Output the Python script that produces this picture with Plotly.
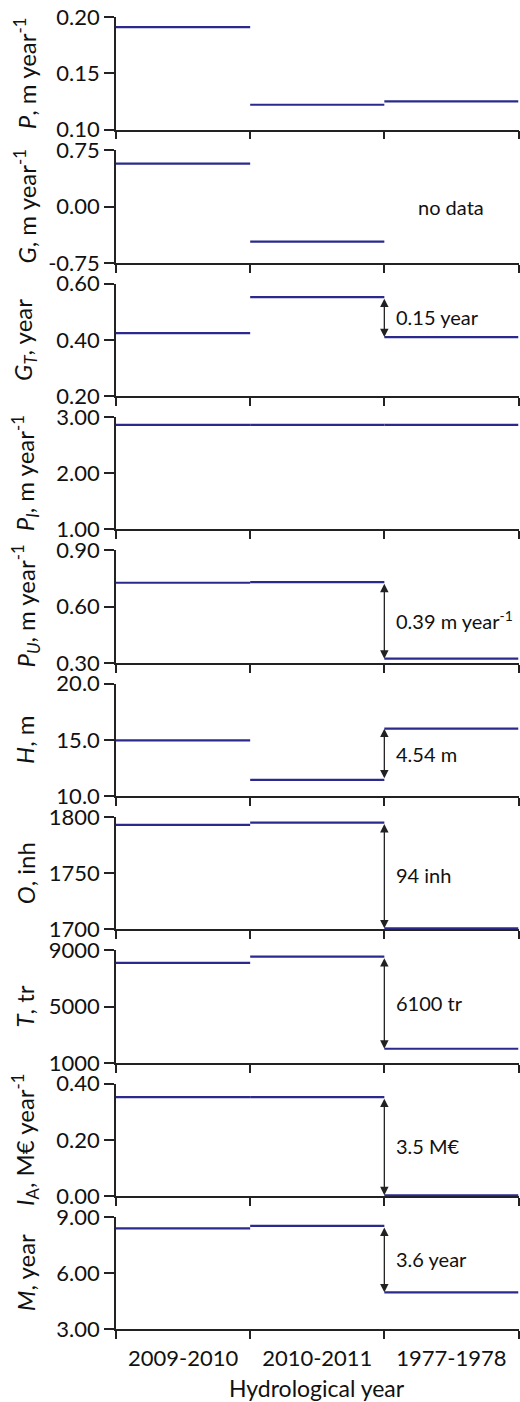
import plotly.graph_objects as go

# ---------------- data ----------------
periods = ["2009-2010", "2010-2011", "1977-1978"]

titles = [
    "<i>P</i>, m year<sup>-1</sup>",
    "<i>G</i>, m year<sup>-1</sup>",
    "<i>G<sub>T</sub></i>, year",
    "<i>P<sub>I</sub></i>, m year<sup>-1</sup>",
    "<i>P<sub>U</sub></i>, m year<sup>-1</sup>",
    "<i>H</i>, m",
    "<i>O</i>, inh",
    "<i>T</i>, tr",
    "<i>I</i><sub>A</sub>, M€ year<sup>-1</sup>",
    "<i>M</i>, year",
]

P_vals = [0.191, 0.122, 0.125]
G_vals = [0.573, -0.467, None]
GT_vals = [0.424, 0.552, 0.410]
PI_vals = [2.86, 2.86, 2.86]
PU_vals = [0.727, 0.730, 0.322]
H_vals = [14.96, 11.45, 16.0]
O_vals = [1793, 1795, 1701]
T_vals = [8100, 8550, 2000]
IA_vals = [0.352, 0.352, 0.003]
M_vals = [8.39, 8.52, 4.98]

series = [P_vals, G_vals, GT_vals, PI_vals, PU_vals, H_vals, O_vals, T_vals, IA_vals, M_vals]

y_ranges = [[0.10, 0.20], [-0.75, 0.75], [0.20, 0.60], [1.00, 3.00], [0.30, 0.90],
            [10.0, 20.0], [1700, 1800], [1000, 9000], [0.00, 0.40], [3.00, 9.00]]
y_tickvals = [[0.10, 0.15, 0.20], [-0.75, 0.0, 0.75], [0.20, 0.40, 0.60], [1.0, 2.0, 3.0],
              [0.30, 0.60, 0.90], [10.0, 15.0, 20.0], [1700, 1750, 1800], [1000, 5000, 9000],
              [0.0, 0.20, 0.40], [3.0, 6.0, 9.0]]
y_ticktext = [["0.10", "0.15", "0.20"], ["-0.75", "0.00", "0.75"], ["0.20", "0.40", "0.60"],
              ["1.00", "2.00", "3.00"], ["0.30", "0.60", "0.90"], ["10.0", "15.0", "20.0"],
              ["1700", "1750", "1800"], ["1000", "5000", "9000"], ["0.00", "0.20", "0.40"],
              ["3.00", "6.00", "9.00"]]

# difference labels (panel index -> text) drawn between 2nd and 3rd period
diff_labels = {2: "0.15 year", 4: "0.39 m year<sup>-1</sup>", 5: "4.54 m", 6: "94 inh",
               7: "6100 tr", 8: "3.5 M€", 9: "3.6 year"}
no_data_panel = 1
no_data_text = "no data"
x_title = "Hydrological year"

# ---------------- layout geometry ----------------
W, H = 520, 1402
FONT = "Lato"
LINE_COLOR = "#2b2a8c"
AX_COLOR = "#222222"
TXT = "#111111"
top0, pitch, ph = 17.0, 133.33, 112.5
x0_px, x1_px = 116.0, 518.5

fig = go.Figure()
layout = dict(
    width=W, height=H,
    margin=dict(l=0, r=0, t=0, b=0, autoexpand=False),
    paper_bgcolor="white", plot_bgcolor="white",
    showlegend=False,
    font=dict(family=FONT, size=22, color=TXT),
)
annotations = []

n = len(series)
for k in range(n):
    idx = "" if k == 0 else str(k + 1)
    xa, ya = "x" + idx, "y" + idx
    top = top0 + k * pitch
    bot = top + ph
    vals = series[k]
    xs, ys = [], []
    for i, v in enumerate(vals):
        if v is None:
            continue
        xs += [i, i + 1, None]
        ys += [v, v, None]
    fig.add_trace(go.Scatter(x=xs, y=ys, mode="lines", xaxis=xa, yaxis=ya,
                             line=dict(color=LINE_COLOR, width=2.2), hoverinfo="skip"))
    layout["xaxis" + idx] = dict(
        domain=[x0_px / W, x1_px / W], anchor=ya, range=[0, 3], automargin=False,
        showline=True, linecolor=AX_COLOR, linewidth=1.5,
        ticks="outside", tickvals=[0, 1, 2, 3], ticklen=8, tickwidth=1.5, tickcolor=AX_COLOR,
        showticklabels=False, showgrid=False, zeroline=False, layer="below traces",
    )
    layout["yaxis" + idx] = dict(
        domain=[1 - bot / H, 1 - top / H], anchor=xa, range=y_ranges[k], automargin=False,
        showline=True, linecolor=AX_COLOR, linewidth=1.5,
        ticks="outside", ticklen=10, tickwidth=1.5, tickcolor=AX_COLOR,
        tickvals=y_tickvals[k], ticktext=y_ticktext[k],
        tickfont=dict(family=FONT, size=22, color=TXT),
        showgrid=False, zeroline=False, layer="below traces",
    )
    # axis title as rotated annotation
    annotations.append(dict(
        text=titles[k], textangle=-90, xref="paper", yref="paper",
        x=25 / W, y=1 - (top + bot) / 2 / H, xanchor="center", yanchor="middle",
        showarrow=False, font=dict(family=FONT, size=24, color=TXT),
    ))
    if k in diff_labels:
        v2, v3 = vals[1], vals[2]
        annotations.append(dict(
            x=2, y=v3, ax=2, ay=v2, xref=xa, yref=ya, axref=xa, ayref=ya,
            text="", showarrow=True, arrowhead=2, arrowside="end+start",
            arrowsize=1.3, arrowwidth=1.3, arrowcolor="#222222", standoff=0, startstandoff=0,
        ))
        annotations.append(dict(
            x=2, y=(v2 + v3) / 2, xref=xa, yref=ya, xshift=10,
            text=diff_labels[k], showarrow=False, xanchor="left", yanchor="middle",
            font=dict(family=FONT, size=20, color=TXT),
        ))
    if k == no_data_panel:
        annotations.append(dict(
            x=2.5, y=0.0, xref=xa, yref=ya, text=no_data_text, showarrow=False,
            xanchor="center", yanchor="middle", font=dict(family=FONT, size=20, color=TXT),
        ))

# category labels on an overlaying axis of the bottom panel
last = str(n)
layout["xaxis" + str(n + 1)] = dict(
    domain=[x0_px / W, x1_px / W], anchor="y" + last, overlaying="x" + last, range=[0, 3],
    side="bottom", showline=False, ticks="", tickvals=[0.5, 1.5, 2.5], ticktext=periods,
    tickfont=dict(family=FONT, size=22, color=TXT), showgrid=False, zeroline=False,
    ticklabelstandoff=14, automargin=False,
)
fig.add_trace(go.Scatter(x=[0.5, 1.5, 2.5], y=[None, None, None], xaxis="x" + str(n + 1),
                         yaxis="y" + last, mode="lines", hoverinfo="skip"))

annotations.append(dict(
    text=x_title, xref="paper", yref="paper", x=((x0_px + x1_px) / 2) / W, y=1 - 1388 / H,
    xanchor="center", yanchor="middle", showarrow=False,
    font=dict(family=FONT, size=23, color=TXT),
))

layout["annotations"] = annotations
fig.update_layout(**layout)
fig.write_html("out.html")
